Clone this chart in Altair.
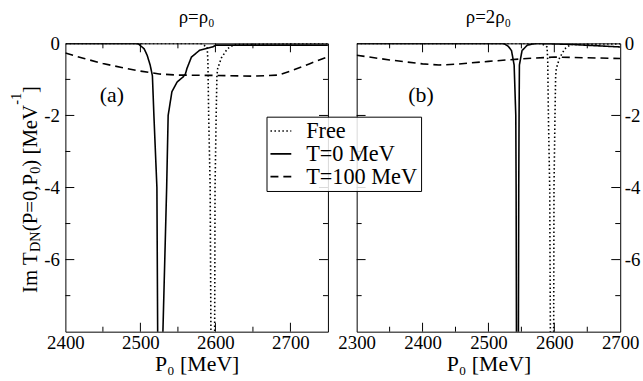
import altair as alt
import pandas as pd

FONT = "Liberation Serif"
SERIES = ["Free", "T=0 MeV", "T=100 MeV"]
DASHES = [[1.5, 2.5], [1, 0], [8, 5]]

# Free D-N amplitude (identical in both panels)
free_p0 = [2300, 2580, 2589, 2590, 2591, 2593, 2594, 2595, 2598.5, 2599, 2599.5,
           2601, 2602, 2603, 2608, 2616, 2625, 2750]
free_im = [0, 0, -0.1, -0.5, -2, -4, -8, -10, -10, -8, -4,
           -2, -0.9, -0.7, -0.4, -0.15, -0.03, 0]

# rho = rho_0, T = 0 MeV
t0a_p0 = [2400, 2490, 2497, 2505, 2509, 2513, 2516, 2518, 2522, 2523, 2524, 2529,
          2530, 2535, 2537, 2542, 2549, 2557, 2560, 2562, 2568, 2579, 2596, 2601, 2750]
t0a_im = [0, 0, -0.01, -0.15, -0.33, -0.6, -0.9, -2, -4, -8, -10, -10,
          -8, -4, -2, -1.34, -1.07, -0.93, -0.85, -0.7, -0.38, -0.19, -0.1, -0.05, -0.05]

# rho = rho_0, T = 100 MeV
t100a_p0 = [2400, 2425, 2450, 2475, 2500, 2525, 2550, 2600, 2650, 2684, 2700, 2725, 2750]
t100a_im = [-0.27, -0.42, -0.56, -0.67, -0.77, -0.85, -0.88, -0.89, -0.91, -0.88, -0.77, -0.57, -0.37]

# rho = 2 rho_0, T = 0 MeV
t0b_p0 = [2300, 2520, 2524, 2530, 2535, 2539, 2541.5, 2542, 2542.5, 2543, 2545, 2545.5,
          2546, 2546.5, 2547, 2551, 2559, 2572, 2626, 2700]
t0b_im = [0, 0, -0.01, -0.08, -0.2, -0.6, -2, -4, -8, -10, -10, -8,
          -4, -2, -0.6, -0.2, -0.05, 0, -0.03, -0.1]

# rho = 2 rho_0, T = 100 MeV
t100b_p0 = [2300, 2350, 2400, 2425, 2450, 2500, 2550, 2600, 2650, 2700]
t100b_im = [-0.33, -0.46, -0.57, -0.6, -0.58, -0.5, -0.43, -0.38, -0.4, -0.42]

# axis ticks
xa_major = [2500, 2600, 2700]
xa_minor = [2450, 2550, 2650]
xb_major = [2400, 2500, 2600]
xb_minor = [2350, 2450, 2550, 2650]
y_major = [-2, -4, -6]
y_minor = [-1, -3, -5, -7]
y_labels = [0, -2, -4, -6]

H = 291
MAJOR, MINOR = 9, 5


def frame(p0_list, im_list):
    rows = []
    for name, p0s, ims in zip(SERIES, p0_list, im_list):
        for p, v in zip(p0s, ims):
            rows.append({"P0": p, "ImT": v, "series": name})
    return pd.DataFrame(rows)


def x_enc(domain, values):
    return alt.X("P0:Q", scale=alt.Scale(domain=domain, nice=False, zero=False),
                 axis=alt.Axis(values=values, ticks=False, tickSize=0, domain=False, grid=False,
                               labelFlush=False, labelPadding=2, labelFontSize=19,
                               labelFont=FONT, labelColor="black", format="d",
                               title="P₀ [MeV]", titleFont=FONT, titleFontSize=22,
                               titleFontWeight="normal", titleColor="black", titlePadding=1),
                 title="P₀ [MeV]")


def y_enc(orient):
    return alt.Y("ImT:Q", scale=alt.Scale(domain=[-8, 0], nice=False, zero=False),
                 axis=alt.Axis(orient=orient, values=y_labels, ticks=False, tickSize=0,
                               domain=False, grid=False, labelPadding=6 if orient == "left" else 4,
                               labelFont=FONT, labelColor="black",
                               labelFontSize=19, labelExpr="'' + datum.value", title=None),
                 title=None)


def panel(df, domain, xlabels, xmaj, xmin, width, orient, title, tag, tag_x):
    X = x_enc(domain, xlabels)
    Y = y_enc(orient)
    lines = alt.Chart(df).mark_line(clip=True, strokeWidth=1.6, color="black").encode(
        x=X, y=Y,
        strokeDash=alt.StrokeDash(
            "series:N",
            scale=alt.Scale(domain=SERIES, range=DASHES),
            legend=alt.Legend(orient="none", legendX=203, legendY=74, title=None,
                              fillColor="rgba(255,255,255,0.85)", strokeColor="black",
                              padding=3, labelFont=FONT, labelFontSize=22.5, labelColor="black",
                              symbolType="stroke", symbolSize=441, symbolStrokeWidth=1.6,
                              symbolStrokeColor="black", labelOffset=14, rowPadding=0),
        ),
    )
    layers = [lines]
    # inward ticks on all four sides
    for vals, ln in ((xmaj, MAJOR), (xmin, MINOR)):
        d = pd.DataFrame({"P0": vals})
        layers.append(alt.Chart(d).mark_rule(color="black", strokeWidth=1).encode(
            x=X, y=alt.value(H), y2=alt.value(H - ln)))
        layers.append(alt.Chart(d).mark_rule(color="black", strokeWidth=1).encode(
            x=X, y=alt.value(0), y2=alt.value(ln)))
    for vals, ln in ((y_major, MAJOR), (y_minor, MINOR)):
        d = pd.DataFrame({"ImT": vals})
        layers.append(alt.Chart(d).mark_rule(color="black", strokeWidth=1).encode(
            y=Y, x=alt.value(0), x2=alt.value(ln)))
        layers.append(alt.Chart(d).mark_rule(color="black", strokeWidth=1).encode(
            y=Y, x=alt.value(width), x2=alt.value(width - ln)))
    layers.append(alt.Chart(pd.DataFrame({"t": [tag]})).mark_text(
        font=FONT, fontSize=22, align="center", baseline="alphabetic", color="black").encode(
        text="t:N", x=alt.value(tag_x), y=alt.value(59)))
    return alt.layer(*layers).properties(
        width=width, height=H,
        title=alt.TitleParams(title, font=FONT, fontSize=19, fontWeight="normal",
                              color="black", frame="group", anchor="middle", offset=8),
    )


# rotated y-axis title built from pieces so that subscripts/superscripts sit right
ADV = {"I": 333, "m": 778, " ": 250, "T": 611, "D": 722, "N": 722, "(": 333, "P": 556,
       "=": 564, "0": 500, ",": 250, ")": 333, "[": 333, "M": 889, "e": 444, "V": 722,
       "-": 333, "1": 500, "]": 333}
title_parts = ["Im T", "DN", "(P=0,P", "0", ") [MeV", "-1", "]"]
title_kind = ["main", "sub", "main", "sub", "main", "sup", "main"]
SIZE = {"main": 21, "sub": 14.5, "sup": 14.5}
BASE_X = {"main": -29, "sub": -25.5, "sup": -45}


def y_title_layers():
    out = []
    pos = 252.0
    for txt, kind in zip(title_parts, title_kind):
        out.append(alt.Chart(pd.DataFrame({"t": [txt]})).mark_text(
            font=FONT, fontSize=SIZE[kind], angle=270, align="left", baseline="alphabetic",
            color="black").encode(text="t:N", x=alt.value(BASE_X[kind]), y=alt.value(pos)))
        pos -= sum(ADV[c] for c in txt) / 1000 * SIZE[kind]
    return out


left = panel(frame([free_p0, t0a_p0, t100a_p0], [free_im, t0a_im, t100a_im]),
             [2400, 2750], [2400, 2500, 2600, 2700], xa_major, xa_minor, 265, "left",
             "ρ=ρ₀", "(a)", 47)
left = alt.layer(left, *y_title_layers())

right = panel(frame([free_p0, t0b_p0, t100b_p0], [free_im, t0b_im, t100b_im]),
              [2300, 2700], [2300, 2400, 2500, 2600, 2700], xb_major, xb_minor, 266, "right",
              "ρ=2ρ₀", "(b)", 65)

chart = alt.hconcat(left, right, spacing=8).properties(
    padding={"left": 8, "right": 2, "top": 5, "bottom": 2}, background="white"
).configure_view(
    stroke="black", strokeWidth=1
).configure_axis(
    labelFont=FONT, titleFont=FONT, labelColor="black", titleColor="black", titleFontWeight="normal"
).configure_title(font=FONT, fontWeight="normal", color="black")

chart.save("out.html", embed_options={"renderer": "svg", "actions": False})
